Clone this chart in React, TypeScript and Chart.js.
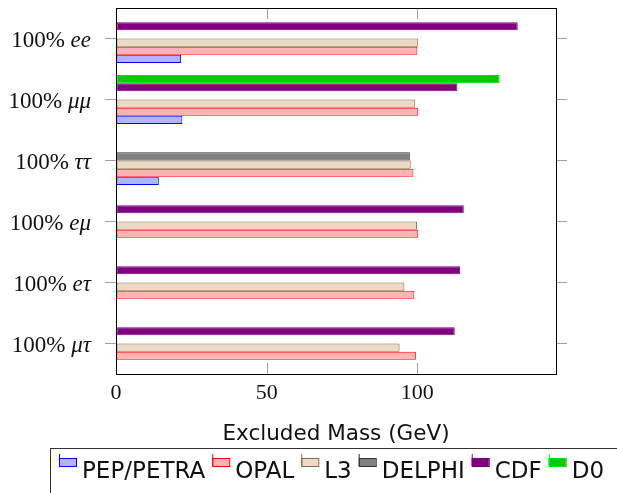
import React, { useEffect, useRef } from 'react';
import { Chart, registerables } from 'chart.js';

Chart.register(...registerables);

// ---- data ----
const categories = ['100% ee', '100% μμ', '100% ττ', '100% eμ', '100% eτ', '100% μτ'];
const pepPetra = [21.6, 22.0, 14.2, null, null, null];
const opal = [100.0, 100.3, 98.7, 100.3, 99.0, 99.5];
const l3 = [100.3, 99.3, 97.8, 99.9, 95.7, 94.1];
const delphi = [null, null, 97.5, null, null, null];
const cdf = [133.3, 113.3, null, 115.4, 114.2, 112.4];
const d0 = [null, 127.3, null, null, null, null];
const seriesNames = ['PEP/PETRA', 'OPAL', 'L3', 'DELPHI', 'CDF', 'D0'];
const xTickValues = [0, 50, 100];
const xMin = 0;
const xMax = 146;
const xTitle = 'Excluded Mass (GeV)';

// ---- styles ----
const fills = ['#b3b3ff', '#ffb3b3', '#ecd9c6', '#808080', '#800080', '#00cc00'];
const borders = ['#0000ff', '#ff0000', '#8c6a48', '#333333', '#800080', '#00e600'];

const seriesValues = [pepPetra, opal, l3, delphi, cdf, d0];

const framePlugin = {
  id: 'framePlugin',
  afterDraw(chart: any) {
    const { ctx, chartArea: a, scales } = chart;
    const xs = scales.x;
    const ys = scales.y;
    ctx.save();
    // inner x ticks (top and bottom)
    ctx.strokeStyle = '#a0a0a0';
    ctx.lineWidth = 1;
    for (const v of xTickValues) {
      const px = Math.round(xs.getPixelForValue(v)) + 0.5;
      ctx.beginPath();
      ctx.moveTo(px, a.top);
      ctx.lineTo(px, a.top + 11);
      ctx.moveTo(px, a.bottom);
      ctx.lineTo(px, a.bottom - 11);
      ctx.stroke();
    }
    // frame
    ctx.strokeStyle = '#000';
    ctx.strokeRect(
      Math.round(a.left) + 0.5,
      Math.round(a.top) + 0.5,
      Math.round(a.right - a.left),
      Math.round(a.bottom - a.top)
    );
    // y labels with italic math part
    ctx.fillStyle = '#111';
    ctx.textBaseline = 'alphabetic';
    ctx.textAlign = 'right';
    categories.forEach((lab, i) => {
      const py = ys.getPixelForValue(i);
      const sp = lab.indexOf(' ');
      const pre = lab.slice(0, sp + 1);
      const math = lab.slice(sp + 1);
      ctx.font = 'italic 23px "Liberation Serif"';
      const wm = ctx.measureText(math).width;
      const xr = a.left - 25;
      ctx.fillText(math, xr, py + 8);
      ctx.font = '23px "Liberation Serif"';
      ctx.fillText(pre, xr - wm, py + 8);
    });
    // axis title
    ctx.textAlign = 'center';
    ctx.font = '21.5px "DejaVu Sans"';
    ctx.fillText(xTitle, (a.left + a.right) / 2, 440);
    // legend box
    ctx.strokeStyle = '#333';
    ctx.strokeRect(50.5, 448.5, 620, 80);
    // legend items
    ctx.textAlign = 'left';
    ctx.font = '23px "DejaVu Sans"';
    let lx = 59;
    seriesNames.forEach((name, i) => {
      ctx.fillStyle = fills[i];
      ctx.fillRect(lx, 458, 17, 8);
      ctx.strokeStyle = borders[i];
      ctx.strokeRect(lx + 0.5, 458.5, 17, 8);
      ctx.beginPath();
      ctx.moveTo(lx + 0.5, 454);
      ctx.lineTo(lx + 0.5, 466);
      ctx.stroke();
      ctx.fillStyle = '#111';
      ctx.fillText(name, lx + 23, 478);
      lx += 23 + ctx.measureText(name).width + 7;
    });
    ctx.restore();
  },
};

export default function App() {
  const ref = useRef<HTMLCanvasElement | null>(null);
  useEffect(() => {
    if (!ref.current) return;
    // datasets in reverse so that D0 sits at the top of each group
    const order = [5, 4, 3, 2, 1, 0];
    const chart = new Chart(ref.current, {
      type: 'bar',
      data: {
        labels: categories,
        datasets: order.map((i) => ({
          label: seriesNames[i],
          data: seriesValues[i] as any,
          backgroundColor: fills[i],
          borderColor: borders[i],
          borderWidth: 1,
          borderSkipped: false,
          categoryPercentage: 0.8,
          barPercentage: 1.0,
        })),
      },
      options: {
        indexAxis: 'y',
        animation: false,
        responsive: false,
        layout: { padding: { top: 8, left: 0, right: 0, bottom: 0 } },
        plugins: {
          legend: { display: false },
          tooltip: { enabled: false },
          title: { display: false },
        },
        scales: {
          x: {
            type: 'linear',
            position: 'bottom',
            min: xMin,
            max: xMax,
            afterFit: (s: any) => {
              s.height = 119;
            },
            afterBuildTicks: (s: any) => {
              s.ticks = xTickValues.map((v) => ({ value: v }));
            },
            ticks: {
              font: { family: '"Liberation Serif"', size: 22 },
              color: '#111',
              padding: 6,
              maxRotation: 0,
            },
            grid: { drawOnChartArea: false, drawTicks: false },
            border: { display: false },
          },
          y: {
            type: 'category',
            position: 'left',
            offset: true,
            afterFit: (s: any) => {
              s.width = 116;
            },
            ticks: { display: false },
            grid: {
              drawOnChartArea: false,
              offset: false,
              tickLength: 11,
              color: '#a0a0a0',
            },
            border: { display: false },
          },
          y2: {
            type: 'category',
            position: 'right',
            offset: true,
            afterFit: (s: any) => {
              s.width = 61;
            },
            ticks: { display: false },
            grid: {
              drawOnChartArea: false,
              offset: false,
              tickLength: 11,
              color: '#a0a0a0',
            },
            border: { display: false },
          },
        },
      } as any,
      plugins: [framePlugin],
    });
    return () => chart.destroy();
  }, []);
  return (
    <div style={{ position: 'absolute', left: 0, top: 0, width: 617, height: 493, background: '#fff' }}>
      <canvas ref={ref} width={617} height={493} style={{ width: 617, height: 493 }} />
    </div>
  );
}
